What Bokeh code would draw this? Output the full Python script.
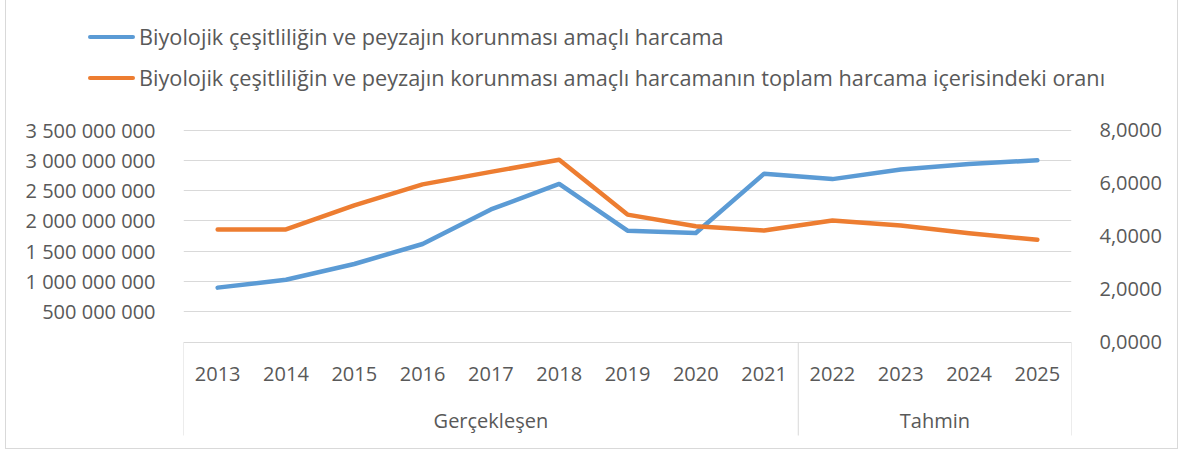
from bokeh.plotting import figure
from bokeh.layouts import column
from bokeh.models import (FactorRange, Range1d, LinearAxis, FixedTicker,
                          CustomJSTickFormatter, ColumnDataSource, Div)
from bokeh.core.properties import value
from bokeh.embed import file_html
from bokeh.resources import INLINE

# ---------------- data ----------------
years = ["2013", "2014", "2015", "2016", "2017", "2018", "2019",
         "2020", "2021", "2022", "2023", "2024", "2025"]
groups = ["Gerçekleşen"] * 9 + ["Tahmin"] * 4
spending = [0.90e9, 1.03e9, 1.29e9, 1.62e9, 2.19e9, 2.61e9, 1.84e9,
            1.80e9, 2.78e9, 2.69e9, 2.85e9, 2.94e9, 3.00e9]
share = [4.25, 4.25, 5.16, 5.95, 6.42, 6.88, 4.81,
         4.37, 4.21, 4.59, 4.40, 4.11, 3.86]
left_ticks = [0, 500e6, 1000e6, 1500e6, 2000e6, 2500e6, 3000e6, 3500e6]
right_ticks = [0, 2, 4, 6, 8]
label_spend = "Biyolojik çeşitliliğin ve peyzajın korunması amaçlı harcama"
label_share = "Biyolojik çeşitliliğin ve peyzajın korunması amaçlı harcamanın toplam harcama içerisindeki oranı"

# ---------------- styling / layout ----------------
W = 1171
TOP_H = 115           # legend strip height
H = 448 - TOP_H       # main chart height
FONT = "Open Sans"
TXT = "#595959"
GRID = "#d9d9d9"
BLUE = "#5B9BD5"
ORANGE = "#ED7D31"

frame_top = 121 - TOP_H
y_zero_px = 341.7 - TOP_H      # value 0 (px from top of main figure)
y_top_px = 129.5 - TOP_H       # top tick (3.5e9 / 8)
px_per_left = (y_zero_px - y_top_px) / left_ticks[-1]
px_per_right = (y_zero_px - y_top_px) / right_ticks[-1]

def ly(page_px):  # page pixel -> left data value
    return (y_zero_px - (page_px - TOP_H)) / px_per_left

p = figure(width=W, height=H, output_backend="svg", toolbar_location=None,
           x_range=FactorRange(factors=years, range_padding=0, factor_padding=0),
           y_range=Range1d(ly(448), ly(121)),
           x_axis_location=None, y_axis_location="left",
           min_border_left=177, min_border_right=106,
           min_border_top=frame_top, min_border_bottom=0)
p.outline_line_color = None
p.background_fill_color = "white"
p.border_fill_color = "white"

p.extra_y_ranges = {"right": Range1d((y_zero_px - H) / px_per_right,
                                     (y_zero_px - frame_top) / px_per_right)}

ya = p.yaxis[0]
ya.ticker = FixedTicker(ticks=left_ticks)
ya.formatter = CustomJSTickFormatter(code="""
    if (tick == 0) { return ''; }
    return Math.round(tick).toString().replace(/\\B(?=(\\d{3})+(?!\\d))/g, ' ');
""")
ra = LinearAxis(y_range_name="right", ticker=FixedTicker(ticks=right_ticks),
                formatter=CustomJSTickFormatter(code="return tick.toFixed(4).replace('.', ',');"))
p.add_layout(ra, "right")

for ax in (ya, ra):
    ax.axis_line_color = None
    ax.major_tick_line_color = None
    ax.minor_tick_line_color = None
    ax.major_label_text_font = FONT
    ax.major_label_text_font_size = "20px"
    ax.major_label_text_color = TXT
    ax.major_label_standoff = 22

p.xgrid.visible = False
p.ygrid.ticker = FixedTicker(ticks=left_ticks)
p.ygrid.grid_line_color = GRID
p.ygrid.grid_line_width = 1

# category box (Excel-like multi-level axis)
n_first = groups.count("Gerçekleşen")
bounds = [0, n_first, len(years)]
p.segment(x0=bounds, x1=bounds, y0=[0] * 3, y1=[ly(435)] * 3,
          line_color=GRID, line_width=1)

p.text(x=years, y=[ly(373)] * len(years), text=years,
       text_font=value(FONT), text_font_size="20px", text_color=TXT,
       text_align="center", text_baseline="middle")

g_names = ["Gerçekleşen", "Tahmin"]
g_x = [(bounds[0] + bounds[1]) / 2, (bounds[1] + bounds[2]) / 2]
p.text(x=g_x, y=[ly(420)] * 2, text=g_names,
       text_font=value(FONT), text_font_size="20px", text_color=TXT,
       text_align="center", text_baseline="middle")

src = ColumnDataSource(dict(x=years, spend=spending, share=share))
p.line("x", "spend", source=src, line_color=BLUE, line_width=4.5,
       line_join="round", line_cap="round")
p.line("x", "share", source=src, y_range_name="right", line_color=ORANGE,
       line_width=4.5, line_join="round", line_cap="round")

# ---------------- legend strip (HTML) ----------------
def legend_row(color, label, cy):
    return (
        f'<div style="position:absolute;left:82px;top:{cy - 2.25}px;width:47px;height:4.5px;'
        f'background:{color};border-radius:2.25px;"></div>'
        f'<div style="position:absolute;left:133px;top:{cy - 15}px;height:30px;line-height:30px;'
        f'white-space:nowrap;">{label}</div>'
    )

legend_html = (
    f'<div style="position:relative;width:{W}px;height:{TOP_H}px;font-family:\'{FONT}\';'
    f'font-size:21.7px;color:{TXT};">'
    + legend_row(BLUE, label_spend, 37)
    + legend_row(ORANGE, label_share, 78)
    + '</div>'
)
legend_div = Div(text=legend_html, width=W, height=TOP_H, margin=0)

layout = column(legend_div, p, spacing=0)
layout.styles = {"margin-left": "5px", "border-left": "1px solid #d9d9d9",
                 "border-right": "1px solid #d9d9d9", "border-bottom": "1px solid #d9d9d9"}

open("out.html", "w").write(file_html(layout, INLINE))
